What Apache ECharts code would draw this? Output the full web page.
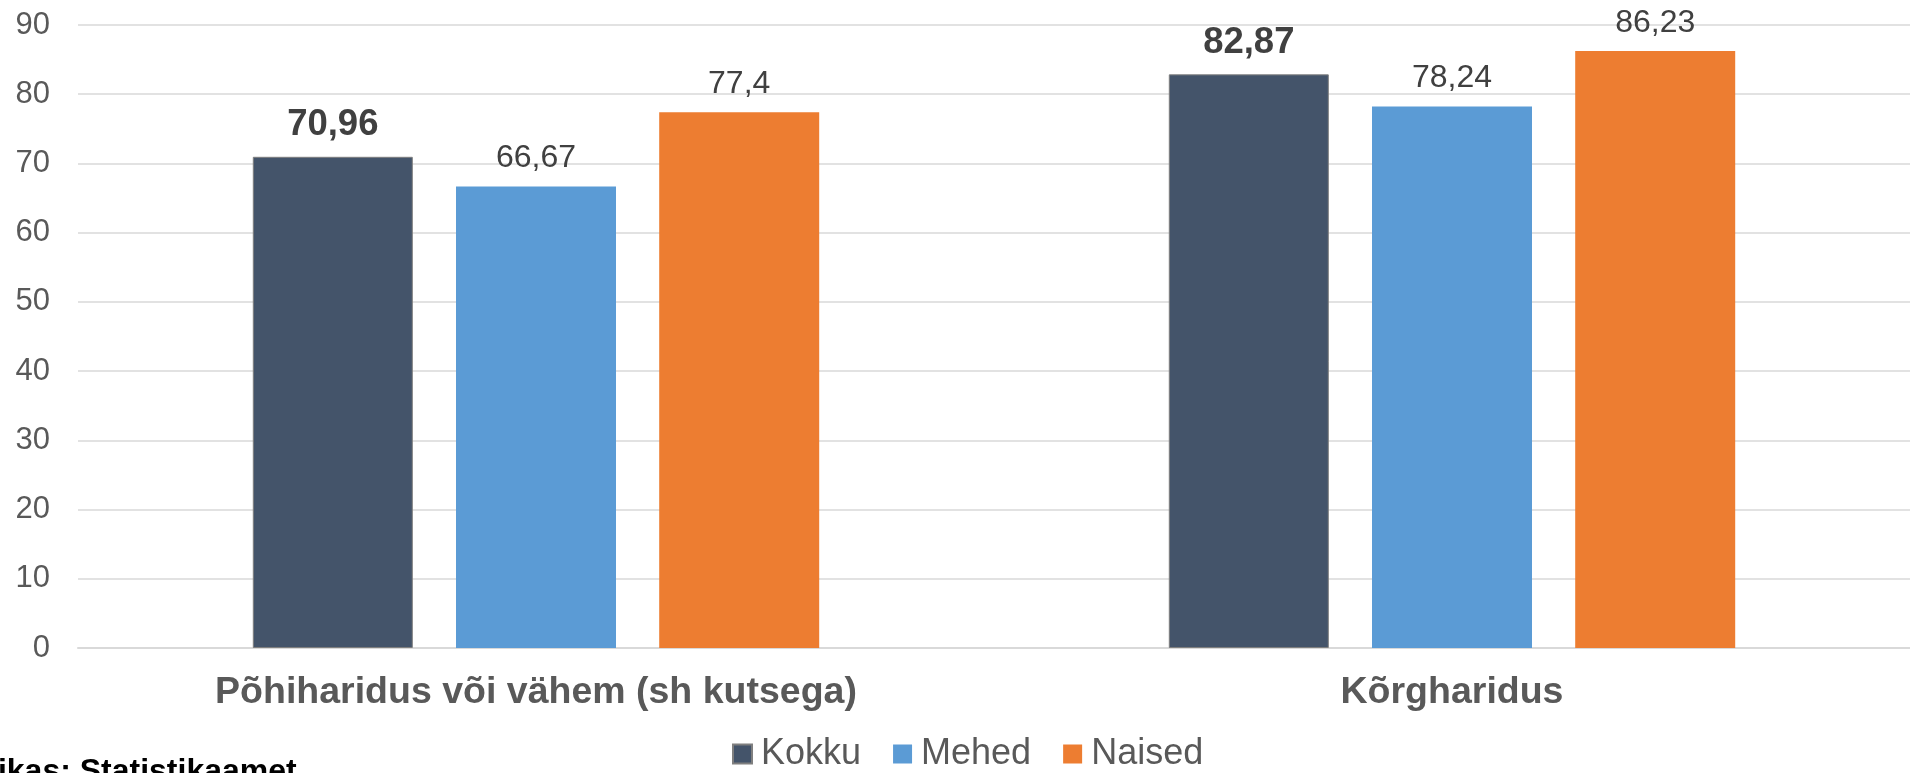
<!DOCTYPE html>
<html lang="et">
<head>
    <meta charset="UTF-8">
    <title>Kokku / Mehed / Naised</title>
    <script src="https://cdn.jsdelivr.net/npm/echarts@6/dist/echarts.min.js"></script>
    <style>
        html, body {margin:0; padding:0; background:#ffffff;}
        #container {width:1910px; height:773px;}
    </style>
</head>
<body>
<div id="container"></div>
<script>
    // andmed
    let categories = ['Põhiharidus või vähem (sh kutsega)', 'Kõrgharidus'];
    let seriesNames = ['Kokku', 'Mehed', 'Naised'];
    let kokku = [70.96, 82.87];
    let mehed = [66.67, 78.24];
    let naised = [77.4, 86.23];
    let yMin = 0, yMax = 90, yStep = 10;
    let source = 'Allikas: Statistikaamet';

    let font = "'Liberation Sans', Arial, sans-serif";
    let chart = echarts.init(document.getElementById('container'));

    function fmt(p) {
        return String(p.value).replace('.', ',');
    }

    function makeSeries(name, data, color, bold) {
        return {
            name: name,
            type: 'bar',
            data: data,
            barWidth: 160,
            barGap: '27%',
            itemStyle: bold
                ? {color: color, borderColor: '#7f7f7f', borderWidth: 1}
                : {color: color},
            label: {
                show: true,
                position: 'top',
                distance: bold ? 13 : 12,
                formatter: fmt,
                color: '#404040',
                fontFamily: font,
                fontSize: bold ? 36.5 : 32,
                fontWeight: bold ? 'bold' : 'normal'
            },
            emphasis: {disabled: true}
        };
    }

    let option = {
        backgroundColor: '#ffffff',
        animation: false,
        grid: {left: 78, right: 0, top: 25, bottom: 125, containLabel: false},
        legend: {
            data: seriesNames,
            left: 732,
            top: 736,
            padding: 0,
            icon: 'rect',
            itemWidth: 19,
            itemHeight: 19,
            itemGap: 32,
            textStyle: {color: '#595959', fontFamily: font, fontSize: 36, padding: [0, 0, 0, 4]}
        },
        xAxis: {
            type: 'category',
            data: categories,
            axisTick: {show: false},
            axisLine: {show: true, lineStyle: {color: '#d9d9d9', width: 2}},
            axisLabel: {
                color: '#595959',
                fontFamily: font,
                fontSize: 37.5,
                fontWeight: 'bold',
                margin: 26
            }
        },
        yAxis: {
            type: 'value',
            min: yMin,
            max: yMax,
            interval: yStep,
            axisLine: {show: false},
            axisTick: {show: false},
            splitLine: {lineStyle: {color: '#d9d9d9', width: 1.5}},
            axisLabel: {color: '#595959', fontFamily: font, fontSize: 31, margin: 28}
        },
        graphic: [{
            type: 'text',
            x: -43,
            y: 756,
            style: {
                text: source,
                font: 'bold 32px ' + font,
                fill: '#000000',
                textVerticalAlign: 'top'
            }
        }],
        series: [
            makeSeries(seriesNames[0], kokku, '#44546a', true),
            makeSeries(seriesNames[1], mehed, '#5b9bd5', false),
            makeSeries(seriesNames[2], naised, '#ed7d31', false)
        ]
    };
    chart.setOption(option);
</script>
</body>
</html>
